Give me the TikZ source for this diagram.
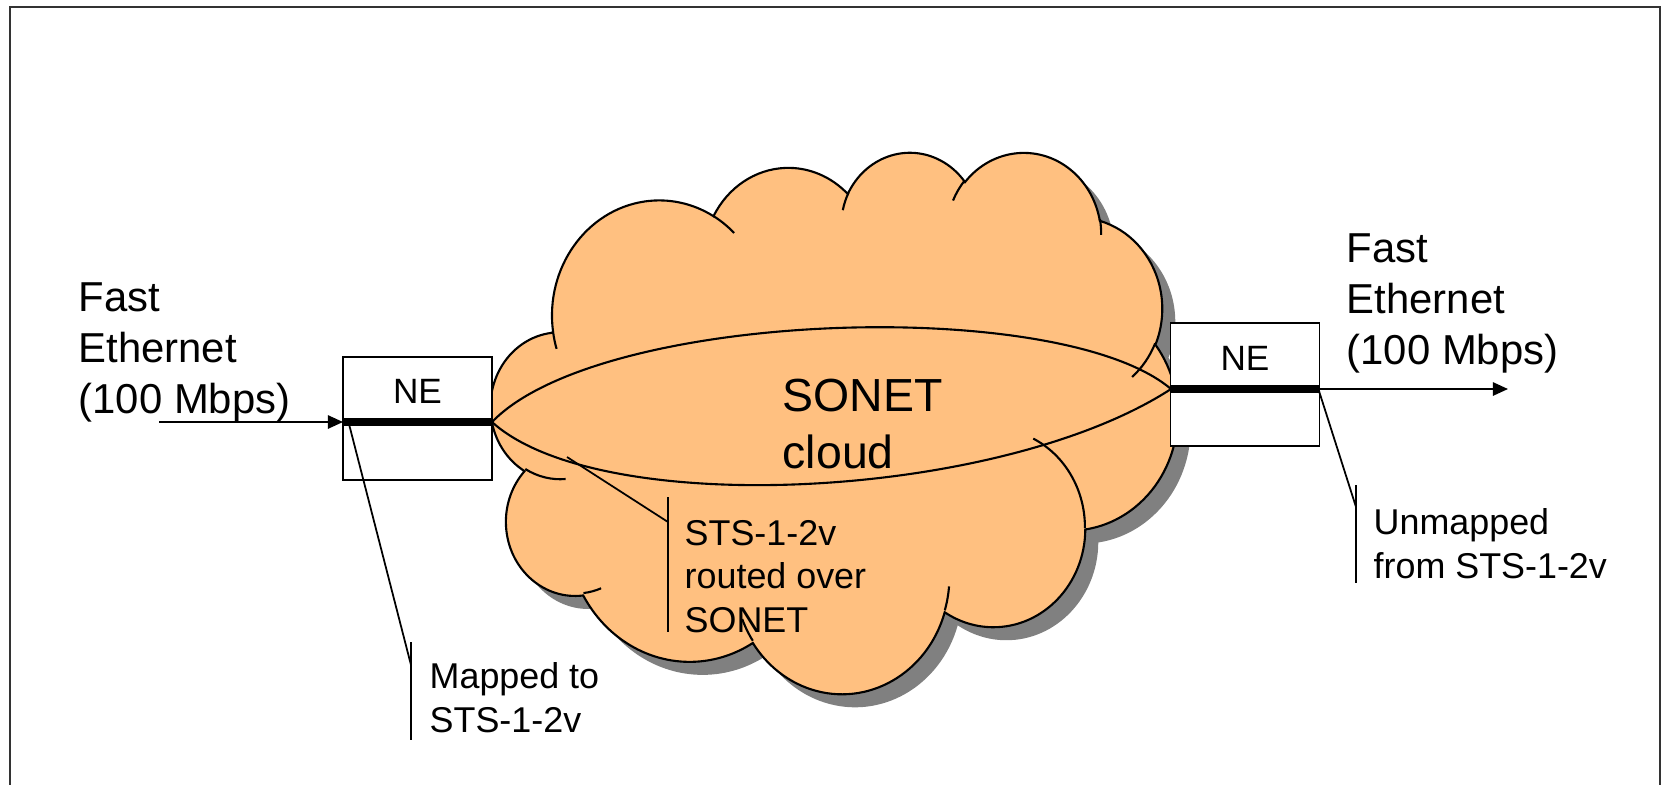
\documentclass[tikz,border=0pt]{standalone}
\usepackage{fontspec}
\setmainfont{Liberation Sans}
\usetikzlibrary{arrows.meta}

\definecolor{cloudorange}{RGB}{255,192,128}
\definecolor{cloudshade}{RGB}{128,128,128}

% one bump of the cloud: x radius, y radius, start angle, sweep (angles as seen, not parametric)
\newcommand\cloudarc[4]{%
  \pgfextra{%
    \pgfmathsetmacro\cta{atan2(#1*sin(#3),#2*cos(#3))}%
    \pgfmathsetmacro\cta{\cta+360*round((#3-\cta)/360)}%
    \pgfmathsetmacro\ctb{atan2(#1*sin(#3+#4),#2*cos(#3+#4))}%
    \pgfmathsetmacro\ctb{\ctb+360*round((#3+#4-\ctb)/360)}%
  }%
  arc[x radius=#1, y radius=#2, start angle=\cta, end angle=\ctb]}

\newcommand\cloudoutline{(3.9,14.37)
  \cloudarc{6.753}{9.190}{-190.4875}{123.7805}
  \cloudarc{5.333}{7.267}{-144.1024}{89.9452}
  \cloudarc{4.365}{5.945}{-145.8079}{99.7230}
  \cloudarc{4.857}{6.595}{-130.9861}{117.2417}
  \cloudarc{5.333}{7.273}{-78.7089}{109.0269}
  \cloudarc{6.775}{9.220}{-46.2673}{130.2690}
  \cloudarc{5.785}{7.867}{0.6250}{114.0333}
  \cloudarc{6.752}{9.215}{22.4516}{115.1726}
  \cloudarc{7.720}{10.543}{66.2426}{75.7110}
  \cloudarc{4.360}{5.918}{-274.9421}{146.7356}
  \cloudarc{4.345}{5.945}{-246.8285}{152.5189}
  -- cycle}

\tikzset{
  nebox/.style={draw, fill=white, line width=0.5pt, minimum width=1.49cm, minimum height=1.23cm, inner sep=0pt},
  trunk/.style={line width=2pt},
  feed/.style={line width=0.5pt, -{Triangle[length=4.3pt,width=3.8pt]}},
  leader/.style={line width=0.5pt},
  bigtext/.style={font=\fontsize{11.9}{14.5}\selectfont, align=left, anchor=base west, inner sep=0pt},
  smalltext/.style={font=\fontsize{10.2}{12.3}\selectfont, align=left, anchor=base west, inner sep=0pt},
}

\begin{document}
\begin{tikzpicture}[x=0.01cm,y=-0.01cm]
\clip (0,0) rectangle (1663,784);
\draw[line width=0.8pt, black!80] (10,7) rectangle (1660,820);

% the cloud, its shadow and the inner strokes
\begin{scope}[shift={(491,151)}, x=0.1588cm, y=-0.12523cm]
  \fill[cloudshade, xshift=0.13cm, yshift=-0.13cm] \cloudoutline;
  \filldraw[fill=cloudorange, line width=0.6pt] \cloudoutline;
  \draw[line width=0.6pt]
    (4.693,26.177) \cloudarc{4.345}{5.945}{86.7420}{26.4295}
    (6.928,34.899) \cloudarc{4.360}{5.918}{73.6105}{11.4475}
    (16.478,39.090) \cloudarc{6.752}{9.215}{137.6242}{14.0811}
    (28.827,34.751) \cloudarc{6.752}{9.215}{6.4533}{15.9984}
    (34.129,22.954) \cloudarc{5.785}{7.867}{-70.2924}{70.9174}
    (41.798,15.354) \cloudarc{5.333}{7.273}{30.3180}{27.7515}
    (38.324,5.426) \cloudarc{4.857}{6.595}{-13.7443}{14.8589}
    (29.078,3.952) \cloudarc{4.857}{6.595}{-149.1815}{18.1954}
    (22.141,4.720) \cloudarc{4.365}{5.945}{-163.4943}{17.6864}
    (14.000,5.192) \cloudarc{6.753}{9.190}{-66.7070}{12.3194}
    (4.127,15.789) \cloudarc{6.753}{9.190}{157.6544}{11.8582};
\end{scope}

% ports
\coordinate (src) at (159,422);
\coordinate (inA) at (343,422);
\coordinate (outA) at (492,422);
\coordinate (inB) at (1171,389);
\coordinate (outB) at (1319,389);
\coordinate (dst) at (1508,389);

% the two paths through the cloud
\draw[line width=0.6pt] (outA) .. controls (600,310) and (1060,295) .. (inB);
\draw[line width=0.6pt] (outA) .. controls (600,520) and (1000,500) .. (inB);

\node[nebox] (ne1) at (417.5,418.5) {};
\node[nebox] (ne2) at (1245,384.5) {};
\node[font=\fontsize{10}{12}\selectfont, anchor=base, inner sep=0pt] (ne1txt) at (417.5,403) {NE};
\node[font=\fontsize{10}{12}\selectfont, anchor=base, inner sep=0pt] (ne2txt) at (1245,370) {NE};

\draw[trunk] (inA) -- (outA);
\draw[trunk] (inB) -- (outB);
\draw[feed] (src) -- (inA);
\draw[feed] (outB) -- (dst);

% multi-line texts sit on the baseline of their last line
\node[bigtext] (lfe) at (78,413) {Fast\\Ethernet\\(100 Mbps)};
\node[bigtext] (rfe) at (1346,364) {Fast\\Ethernet\\(100 Mbps)};
\node[font=\fontsize{13.2}{16}\selectfont, align=left, anchor=base west, inner sep=0pt] (sonet) at (782,468) {SONET\\cloud};

% callouts
\coordinate (mapTip) at (349,424);
\coordinate (mapBar) at (411,665);
\coordinate (mapTop) at (411,642);
\coordinate (mapBot) at (411,740);
\draw[leader] (mapTip) -- (mapBar);
\draw[leader] (mapTop) -- (mapBot);
\node[smalltext] (mapped) at (429,732) {Mapped to\\STS-1-2v};

\coordinate (vcTip) at (567,457);
\coordinate (vcBar) at (668,522);
\coordinate (vcTop) at (668,497);
\coordinate (vcBot) at (668,632);
\draw[leader] (vcTip) -- (vcBar);
\draw[leader] (vcTop) -- (vcBot);
\node[smalltext] (routed) at (684,632) {STS-1-2v\\routed over\\SONET};

\coordinate (unTip) at (1319,391);
\coordinate (unBar) at (1356,507);
\coordinate (unTop) at (1356,485);
\coordinate (unBot) at (1356,583);
\draw[leader] (unTip) -- (unBar);
\draw[leader] (unTop) -- (unBot);
\node[smalltext] (unmapped) at (1373,578) {Unmapped\\from STS-1-2v};
\end{tikzpicture}
\end{document}
